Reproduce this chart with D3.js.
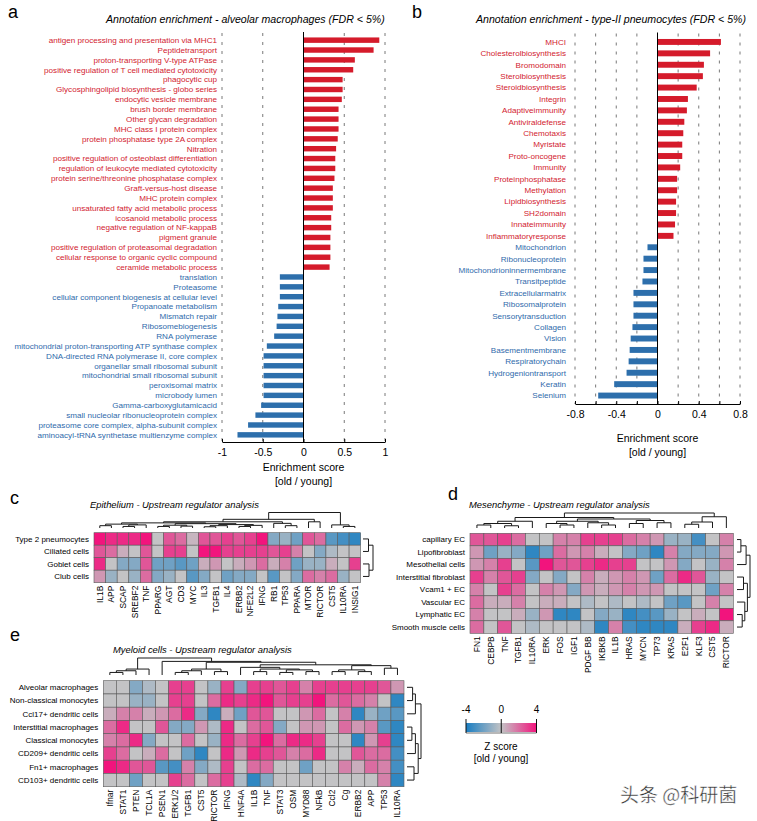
<!DOCTYPE html>
<html><head><meta charset="utf-8">
<script src="https://cdn.jsdelivr.net/npm/d3@7"></script>
<style>body{margin:0;background:#fff}svg{display:block;font-family:"Liberation Sans",Arial,sans-serif}</style>
</head><body><svg id="fig" width="757" height="821"></svg>
<script>
// ---------------- DATA ----------------
const aLabels = ["antigen processing and presentation via MHC1","Peptidetransport","proton-transporting V-type ATPase","positive regulation of T cell mediated cytotoxicity","phagocytic cup","Glycosphingolipid biosynthesis - globo series","endocytic vesicle membrane","brush border membrane","Other glycan degradation","MHC class I protein complex","protein phosphatase type 2A complex","Nitration","positive regulation of osteoblast differentiation","regulation of leukocyte mediated cytotoxicity","protein serine/threonine phosphatase complex","Graft-versus-host disease","MHC protein complex","unsaturated fatty acid metabolic process","icosanoid metabolic process","negative regulation of NF-kappaB","pigment granule","positive regulation of proteasomal degradation","cellular response to organic cyclic compound","ceramide metabolic process","translation","Proteasome","cellular component biogenesis at cellular level","Propanoate metabolism","Mismatch repair","Ribosomebiogenesis","RNA polymerase","mitochondrial proton-transporting ATP synthase complex","DNA-directed RNA polymerase II, core complex","organellar small ribosomal subunit","mitochondrial small ribosomal subunit","peroxisomal matrix","microbody lumen","Gamma-carboxyglutamicacid","small nucleolar ribonucleoprotein complex","proteasome core complex, alpha-subunit complex","aminoacyl-tRNA synthetase multienzyme complex"];
const aValues = [0.93,0.86,0.63,0.61,0.48,0.48,0.47,0.43,0.43,0.43,0.42,0.40,0.39,0.39,0.38,0.36,0.36,0.36,0.34,0.34,0.33,0.33,0.33,0.32,-0.29,-0.29,-0.29,-0.31,-0.32,-0.33,-0.36,-0.45,-0.49,-0.49,-0.49,-0.49,-0.49,-0.52,-0.59,-0.68,-0.81];
const aTicks = [-1,-0.5,0,0.5,1];
const aGrid = [-1,-0.5,0.5,1];

const bLabels = ["MHCI","Cholesterolbiosynthesis","Bromodomain","Sterolbiosynthesis","Steroidbiosynthesis","Integrin","Adaptiveimmunity","Antiviraldefense","Chemotaxis","Myristate","Proto-oncogene","Immunity","Proteinphosphatase","Methylation","Lipidbiosynthesis","SH2domain","Innateimmunity","Inflammatoryresponse","Mitochondrion","Ribonucleoprotein","Mitochondrioninnermembrane","Transitpeptide","Extracellularmatrix","Ribosomalprotein","Sensorytransduction","Collagen","Vision","Basementmembrane","Respiratorychain","Hydrogeniontransport","Keratin","Selenium"];
const bValues = [0.615,0.51,0.45,0.44,0.38,0.295,0.285,0.26,0.25,0.24,0.24,0.22,0.19,0.19,0.18,0.18,0.17,0.155,-0.097,-0.136,-0.136,-0.146,-0.233,-0.233,-0.233,-0.243,-0.26,-0.27,-0.28,-0.30,-0.42,-0.575];
const bTicks = [-0.8,-0.6,-0.4,-0.2,0,0.2,0.4,0.6,0.8];
const bTickLabels = [-0.8,-0.4,0,0.4,0.8];
const bGrid = [-0.8,-0.6,-0.4,-0.2,0.2,0.4,0.6,0.8];

const cRows = ["Type 2 pneumocytes","Ciliated cells","Goblet cells","Club cells"];
const cCols = ["IL1B","APP","SCAP","SREBF2","TNF","PPARG","AGT","CD3","MYC","IL3","TGFB1","IL4","ERBB2","NFE2L2","IFNG","RB1","TP53","PPARA","MTOR","RICTOR","CST5","IL10RA","INSIG1"];
const cValues = [
 [4,3.5,3.5,3.5,4,0,2.5,2,0.3,2.5,2.5,3,2.5,3,4,-1.5,-1,-2,2.5,2,-2.5,-3,-3.5],
 [2.5,2,0.5,0,2.5,0,3,3,0,4,4,3,3,3,3,2.5,3,1.5,0,-1.5,-0.5,0,0],
 [3.5,0,-1.5,-1.5,2.5,-2,-2,-2.5,-2,0.5,1,0,0.5,1,2,0.5,1.5,-2,-1,-1,0.5,0,3],
 [1,-1,0,-1,2,-1.5,-1,0,-2.5,-1.5,0,-2,-1.5,-1.5,0,-2.5,0,-1.5,2,1.5,2,-1,0]
];
// dendrograms: [height, left, right]; leaves are indices
const cColTree = [1,[0.56,[0.4,[0.33,[0.25,[0.15,0,1],[0.2,[0.1,2,3],4]],[0.28,[0.18,[0.1,5,6],[0.12,7,8]],[0.22,[0.15,[0.08,9,10],11],[0.17,[0.1,12,13],14]]]],[0.3,15,[0.15,16,17]]],[0.4,18,19]],[0.2,20,[0.1,21,22]]];
const cRowTree = [1,[0.55,0,1],[0.6,2,3]];

const dRows = ["capillary EC","Lipofibroblast","Mesothelial cells","Interstitial fibroblast","Vcam1 + EC","Vascular EC","Lymphatic EC","Smooth muscle cells"];
const dCols = ["FN1","CEBPB","TNF","TGFB1","IL10RA","ERK","FOS","IGF1","PDGF BB","IKBKB","IL1B","HRAS","MYCN","TP73","KRAS","E2F1","KLF3","CST5","RICTOR"];
const dValues = [
 [2.5,2.5,3,2,0,0,1.5,1.5,3,3,3,2,1.5,1,-1,-1,-3,0,1.5],
 [1,-2,-1,-1.5,-3.5,-2,2,1,1.5,0.5,0,-1.5,-2,-3.5,1.5,-1.5,-1.5,-1.5,1],
 [1,1.5,3,0,-2.5,4,2.5,2.5,3,3.5,3,3,0,0,1,-1.5,0,-1,1.5],
 [3,1.5,2.5,3,-1.5,0,-1.5,0,1.5,0.5,1,1.5,1,-2,2,3.5,2.5,-1,0],
 [1.5,0,3,2,0,1.5,1,-1.5,1,0.5,1,1.5,1,1,0,0,0,-2,1.5],
 [2,0.5,0.5,1.5,0,0.5,0.5,0,-0.5,0,-0.5,0,-0.5,0,-2,-2.5,0,1.5,0],
 [1.5,0,0,0.5,-1,1,-3.5,-3.5,0,-1.5,-1,-3.5,-3,-2.5,-1,0,0.5,0,4],
 [2,0,2.5,0,-0.5,0,0,0,-0.5,-3.5,1.5,-3,-3.5,-3.5,-3.5,0.5,3,3.5,0.5]
];
const dColTree = [1,[0.7,[0.45,[0.3,[0.2,0,1],[0.15,2,3]],4],[0.6,[0.45,[0.3,5,[0.2,6,7]],[0.35,8,[0.2,9,10]]],[0.5,[0.3,11,12],[0.35,13,14]]]],[0.75,[0.4,[0.25,15,16],17],18]];
const dRowTree = [1,[0.7,[0.3,0,1],2],[0.8,[0.5,3,4],[0.6,5,[0.4,6,7]]]];

const eRows = ["Alveolar macrophages","Non-classical monocytes","Ccl17+ dendritic cells","Interstitial macrophages","Classical monocytes","CD209+ dendritic cells","Fn1+ macrophages","CD103+ dendritic cells"];
const eCols = ["Ifnar","STAT1","PTEN","TCL1A","PSEN1","ERK1/2","TGFB1","CST5","RICTOR","IFNG","HNF4A","IL1B","TNF","STAT3","OSM","MYD88","NFkB","Ccl2","Cg","ERBB2","APP","TP53","IL10RA"];
const eValues = [
 [0,0,-1.5,-0.5,0,3,3,0,-1,3,-1.5,3,3,2.5,3,1.5,3,3,3,3,3,2.5,1],
 [0,0,-1,-1,0,3,3,0,2,3.5,3,3.5,4,2.5,3,3,4,2,2.5,2,1.5,0,-3.5],
 [0.5,1.5,1.5,0.5,1,2,3.5,-1.5,-3.5,0.5,-2,2.5,2.5,0,0,1,2,0,1.5,-3.5,-1,-2,-2.5],
 [2,3.5,0,0,2.5,-1.5,-1.5,1,-0.5,3.5,0,2,2.5,-1.5,0,1,1,0,2,1,1.5,-2.5,-3.5],
 [1.5,2,3.5,-1.5,0,0,2,0,-1,3.5,2,3,4,2,3.5,3.5,3,0,0,-3.5,1,3,-3.5],
 [3,2,0,0.5,2,0,-2,-3.5,0,3.5,1,3.5,3,2.5,1.5,2,3.5,0,0,2.5,2,2,-3],
 [4,3.5,2.5,2.5,-2.5,-3,1.5,-1.5,-0.5,3,0,2,2,0,0,-2,0,0,1.5,0.5,2,1.5,-3],
 [0,0,-2,0,0,3,2,0,2,3,-0.5,-3.5,-1.5,0,0,0,0,0,0,0,0,1.5,-3.5]
];
const eColTree = [1,[0.35,[0.25,[0.15,0,1],2],3],[0.8,4,[0.75,[0.35,[0.25,[0.15,5,6],7],[0.2,8,9]],[0.6,[0.45,10,[0.35,[0.2,11,12],[0.3,[0.15,13,14],[0.2,15,16]]]],[0.55,[0.3,[0.2,17,18],[0.2,19,20]],[0.4,21,22]]]]]];
const eRowTree = [1,[0.6,[0.4,0,1],2],[0.8,[0.6,[0.35,3,4],5],[0.5,6,7]]];

const zDomain = [-4,0,4];
const zTicks = [-4,0,4];

// ---------------- DRAWING ----------------
const svg = d3.select("#fig");
svg.append("rect").attr("width",757).attr("height",821).attr("fill","#fff");
const RED="#d51b2b", BLUE="#2d6fac", RED_T="#d2222f", BLUE_T="#2f6aab";

function barPanel(o){
  const g = svg.append("g");
  const x = d3.scaleLinear().domain(o.domain).range(o.xRange);
  const y = d3.scaleBand().domain(o.labels).range(o.yRange).padding(o.pad);
  g.selectAll("line.grid").data(o.grid).join("line").attr("class","grid")
    .attr("x1",d=>x(d)).attr("x2",d=>x(d)).attr("y1",o.yRange[0]).attr("y2",o.yRange[1])
    .attr("stroke","#555").attr("stroke-width",0.8).attr("stroke-dasharray","3,6");
  g.selectAll("rect.bar").data(o.values).join("rect").attr("class","bar")
    .attr("x",d=>x(Math.min(0,d))).attr("width",d=>Math.abs(x(d)-x(0)))
    .attr("y",(d,i)=>y(o.labels[i])).attr("height",y.bandwidth())
    .attr("fill",d=>d>0?RED:BLUE);
  g.append("line").attr("x1",x(0)).attr("x2",x(0)).attr("y1",o.yRange[0]-1).attr("y2",o.yRange[1])
    .attr("stroke","#000").attr("stroke-width",1);
  g.selectAll("text.lab").data(o.labels).join("text").attr("class","lab")
    .attr("x",o.labelX).attr("y",d=>y(d)+y.bandwidth()/2).attr("dy","0.35em")
    .attr("text-anchor","end").attr("font-size",o.fs)
    .attr("fill",(d,i)=>o.values[i]>0?RED_T:BLUE_T).text(d=>d);
  const ax = g.append("g").attr("transform",`translate(0,${o.yRange[1]})`)
    .call(d3.axisBottom(x).tickValues(o.ticks).tickSize(-3).tickSizeOuter(0).tickPadding(7)
      .tickFormat(d=>o.tickLabels.includes(d)?String(d):""));
  ax.select(".domain").attr("stroke","#000");
  ax.selectAll("text").attr("font-size",10.5).attr("fill","#000").attr("font-family","Liberation Sans, Arial, sans-serif");
  const cx = x(0);
  g.append("text").attr("x",cx).attr("y",o.yRange[1]+o.t1).attr("text-anchor","middle").attr("font-size",10.5).text("Enrichment score");
  g.append("text").attr("x",cx).attr("y",o.yRange[1]+o.t1+13.5).attr("text-anchor","middle").attr("font-size",10.5).text("[old / young]");
  g.append("text").attr("x",o.titleX).attr("y",22.5).attr("font-size",10.6).attr("font-style","italic").text(o.title);
}

barPanel({labels:aLabels, values:aValues, domain:[-1,1], xRange:[222,385], yRange:[33,442], pad:0.45,
  grid:aGrid, ticks:aTicks, tickLabels:aTicks, labelX:217, fs:8.1, t1:29, titleX:106,
  title:"Annotation enrichment - alveolar macrophages (FDR < 5%)"});
barPanel({labels:bLabels, values:bValues, domain:[-0.8,0.8], xRange:[575,740], yRange:[33.5,404], pad:0.48,
  grid:bGrid, ticks:bTicks, tickLabels:bTickLabels, labelX:566, fs:8.1, t1:38, titleX:476,
  title:"Annotation enrichment - type-II pneumocytes (FDR < 5%)"});

const zColor = d3.scaleLinear().domain(zDomain).range(["#1a7ec2","#c3c3c5","#f2147d"]).clamp(true);

function drawTree(g, tree, leafPos, hs, orient){
  const segs = [];
  function rec(n){
    if (typeof n === "number") return {p:leafPos(n), h:0};
    const A = rec(n[1]), B = rec(n[2]);
    segs.push([[A.p,A.h],[A.p,n[0]],[B.p,n[0]],[B.p,B.h]]);
    return {p:(A.p+B.p)/2, h:n[0]};
  }
  rec(tree);
  const line = d3.line().x(d=>orient==="top"?d[0]:hs(d[1])).y(d=>orient==="top"?hs(d[1]):d[0]);
  g.selectAll(null).data(segs).join("path").attr("d",line).attr("fill","none").attr("stroke","#1a1a1a").attr("stroke-width",1);
}

function heatPanel(o){
  const g = svg.append("g");
  const x = d3.scaleBand().domain(d3.range(o.cols.length)).range([o.x0,o.x1]);
  const y = d3.scaleBand().domain(d3.range(o.rows.length)).range([o.y0,o.y1]);
  o.values.forEach((row,r)=>{
    g.selectAll(null).data(row).join("rect")
      .attr("x",(d,c)=>x(c)).attr("y",y(r)).attr("width",x.bandwidth()).attr("height",y.bandwidth())
      .attr("fill",d=>zColor(d)).attr("stroke","#5a5a5a").attr("stroke-width",0.6);
  });
  g.selectAll("text.row").data(o.rows).join("text").attr("class","row")
    .attr("x",o.x0-5).attr("y",(d,i)=>y(i)+y.bandwidth()/2).attr("dy","0.35em")
    .attr("text-anchor","end").attr("font-size",8).text(d=>d);
  g.selectAll("text.col").data(o.cols).join("text").attr("class","col")
    .attr("transform",(d,i)=>`translate(${x(i)+x.bandwidth()/2},${o.y1+3}) rotate(-90)`)
    .attr("dy","0.35em").attr("text-anchor","end").attr("font-size",8.4).text(d=>d);
  const hsC = d3.scaleLinear().domain([0,1]).range(o.colTreeY);
  drawTree(g, o.colTree, i=>x(i)+x.bandwidth()/2, hsC, "top");
  const hsR = d3.scaleLinear().domain([0,1]).range(o.rowTreeX);
  drawTree(g, o.rowTree, i=>y(i)+y.bandwidth()/2, hsR, "right");
  g.append("text").attr("x",o.titleX).attr("y",o.titleY).attr("font-size",9.4).attr("font-style","italic").text(o.title);
}

heatPanel({rows:cRows, cols:cCols, values:cValues, x0:94, x1:360.7, y0:532.7, y1:582.7,
  colTree:cColTree, colTreeY:[528,512.5], rowTree:cRowTree, rowTreeX:[363,373],
  title:"Epithelium - Upstream regulator analysis", titleX:90, titleY:508});
heatPanel({rows:dRows, cols:dCols, values:dValues, x0:470, x1:733.3, y0:533.3, y1:633.3,
  colTree:dColTree, colTreeY:[528,513], rowTree:dRowTree, rowTreeX:[737,750],
  title:"Mesenchyme - Upstream regulator analysis", titleX:469, titleY:508});
heatPanel({rows:eRows, cols:eCols, values:eValues, x0:103.3, x1:404, y0:680.7, y1:786.7,
  colTree:eColTree, colTreeY:[675,658], rowTree:eRowTree, rowTreeX:[407,421],
  title:"Myeloid cells - Upstream regulator analysis", titleX:113, titleY:653});

// panel letters
[["a",8,18],["b",412,18],["c",10,504],["d",448,500],["e",10,641]].forEach(([t,x,y])=>{
  svg.append("text").attr("x",x).attr("y",y).attr("font-size",18).text(t);
});

// colour bar
const defs = svg.append("defs");
const grad = defs.append("linearGradient").attr("id","zgrad");
d3.range(0,1.0001,0.1).forEach(t=>{
  grad.append("stop").attr("offset",t).attr("stop-color",zColor(zDomain[0]+t*(zDomain[2]-zDomain[0])));
});
const zx = d3.scaleLinear().domain([zDomain[0],zDomain[2]]).range([466,536.5]);
svg.append("rect").attr("x",zx(zDomain[0])).attr("y",723).attr("width",zx(zDomain[2])-zx(zDomain[0])).attr("height",9).attr("fill","url(#zgrad)");
svg.selectAll("line.zt").data(zTicks).join("line").attr("class","zt")
  .attr("x1",d=>zx(d)).attr("x2",d=>zx(d)).attr("y1",719).attr("y2",733).attr("stroke","#111").attr("stroke-width",1);
svg.append("line").attr("x1",zx(-4)).attr("x2",zx(4)).attr("y1",733).attr("y2",733).attr("stroke","#111").attr("stroke-width",0.6);
svg.selectAll("text.zt").data(zTicks).join("text").attr("class","zt")
  .attr("x",d=>zx(d)).attr("y",713).attr("text-anchor","middle").attr("font-size",10).text(d=>d);
svg.append("text").attr("x",501).attr("y",749.5).attr("text-anchor","middle").attr("font-size",10).text("Z score");
svg.append("text").attr("x",501).attr("y",762).attr("text-anchor","middle").attr("font-size",10).text("[old / young]");

// watermark
svg.append("text").attr("x",620).attr("y",802).attr("font-size",19)
  .attr("font-family","Noto Sans CJK SC, sans-serif").attr("fill","#333")
  .attr("stroke","#fff").attr("stroke-width",0.4).text("头条 @科研菌");
</script></body></html>
